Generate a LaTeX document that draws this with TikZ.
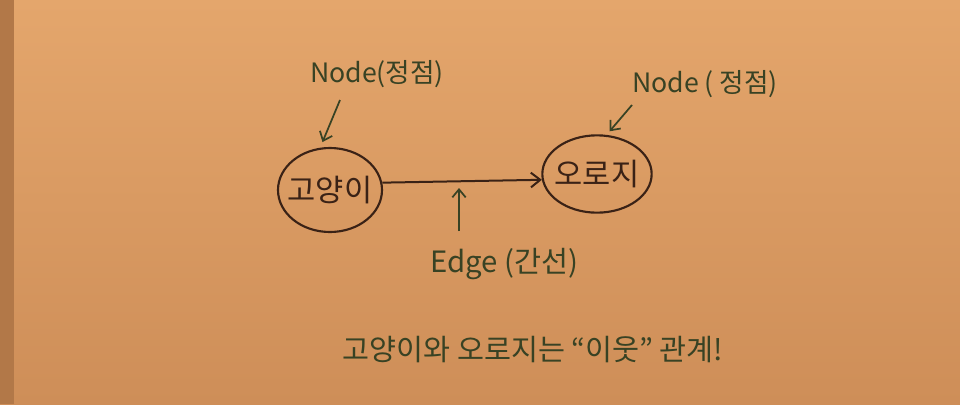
\documentclass[tikz,border=0pt]{standalone}
\usepackage{fontspec}
\setmainfont{Noto Sans CJK KR}
\usetikzlibrary{shapes.geometric,arrows.meta}
\definecolor{papertop}{RGB}{228,166,108}
\definecolor{paperbot}{RGB}{206,142,88}
\definecolor{papershade}{RGB}{178,120,72}
\definecolor{ink}{RGB}{58,34,22}
\definecolor{greenink}{RGB}{56,66,36}
\tikzset{
  vert/.style={ellipse, draw=ink, line width=1.6pt, text=ink, font=\fontsize{23}{26}\selectfont, inner xsep=-9pt, inner ysep=0pt},
  lbl/.style={text=greenink, font=\fontsize{20}{23}\selectfont, inner sep=0pt},
  edgearrow/.style={draw=ink, line width=1.5pt, -{Straight Barb[length=7pt,width=11pt,line width=1.5pt]}},
  pointer/.style={draw=greenink, line width=1.3pt, -{Straight Barb[length=6pt,width=10pt,line width=1.3pt]}}
}
\begin{document}
\begin{tikzpicture}[x=0.75pt,y=-0.75pt]
\useasboundingbox (0,0) rectangle (960,404);
\shade[top color=papertop, bottom color=paperbot] (0,0) rectangle (960,404);
\fill[papershade] (0,0) rectangle (14,404);
% vertices
\node[vert, minimum width=78pt, minimum height=63pt] (gol) at (330,190) {고양이};
\node[vert, minimum width=82pt, minimum height=58pt] (oro) at (597,174) {오로지};
\draw[edgearrow] (gol.8) -- (oro.186);
% labels
\node[lbl] (nodeL) at (377,74) {Node(정점)};
\node[lbl] (nodeR) at (705,84) {Node ( 정점)};
\node[lbl, font=\fontsize{22}{25}\selectfont] (edgeL) at (504,264) {Edge (간선)};
\node[lbl, font=\fontsize{22}{25}\selectfont] (caption) at (533,350) {고양이와 오로지는 “이웃” 관계!};
% pointers
\coordinate (pL) at (340,100);
\coordinate (pR) at (632,105);
\coordinate (pE) at (459,231);
\coordinate (tE) at (459,188);
\draw[pointer] (pL) -- ([yshift=4pt]gol.100);
\draw[pointer] (pR) -- ([yshift=3pt]oro.72);
\draw[pointer] (pE) -- (tE);
\end{tikzpicture}
\end{document}
